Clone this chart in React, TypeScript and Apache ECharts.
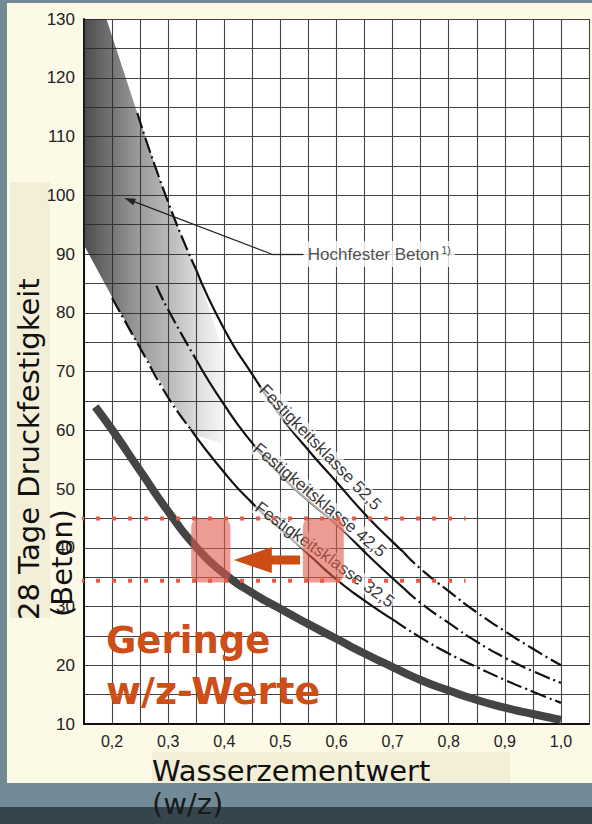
import React, { useEffect, useRef } from 'react';
import * as echarts from 'echarts';

// ---- data ----
const X_TICKS_MIN = 0.15;
const X_TICKS_MAX = 1.05;
const Y_MIN = 10;
const Y_MAX = 130;

// thick grey curve (Zement/Beton)
const THICK_CURVE: number[][] = [
  [0.17, 64], [0.2, 60.1], [0.25, 53.1], [0.3, 46.2], [0.35, 40.1], [0.4, 35.6], [0.45, 32.3],
  [0.5, 29.6], [0.55, 27.0], [0.6, 24.5], [0.65, 22.0], [0.7, 19.7], [0.75, 17.5], [0.8, 15.7],
  [0.85, 14.1], [0.9, 12.8], [0.95, 11.7], [1.0, 10.7],
];

// Festigkeitsklasse 52,5
const K525_START: number[][] = [[0.245, 114], [0.3, 98.8], [0.35, 87.3]];
const K525_SOLID: number[][] = [[0.35, 87.3], [0.4, 77.2], [0.45, 69.5], [0.5, 62.5], [0.55, 56.6], [0.6, 51.2], [0.65, 45.8], [0.7, 41], [0.72, 39.2]];
const K525_END: number[][] = [[0.72, 39.2], [0.75, 36.4], [0.8, 32.6], [0.85, 29], [0.9, 25.8], [0.95, 22.8], [1.0, 20]];

// Festigkeitsklasse 42,5
const K425_START: number[][] = [[0.279, 84.6], [0.3, 80.5], [0.35, 72]];
const K425_SOLID: number[][] = [[0.35, 72], [0.4, 64.3], [0.45, 57.8], [0.5, 52.4], [0.55, 48], [0.6, 44], [0.65, 39.3], [0.7, 34.8], [0.72, 33.1]];
const K425_END: number[][] = [[0.72, 33.1], [0.75, 30.6], [0.8, 27.2], [0.85, 24], [0.9, 21.3], [0.95, 19], [1.0, 17]];

// Festigkeitsklasse 32,5
const K325_START: number[][] = [[0.2, 82.5], [0.25, 74], [0.3, 65.6], [0.34, 60.2]];
const K325_SOLID: number[][] = [[0.34, 60.2], [0.4, 52.8], [0.45, 47.6], [0.5, 43.2], [0.55, 38.9], [0.6, 34.6], [0.65, 31], [0.7, 27.8]];
const K325_END: number[][] = [[0.7, 27.8], [0.75, 24.7], [0.8, 22], [0.85, 19.7], [0.9, 17.5], [0.95, 15.5], [1.0, 13.6]];

// grey "Hochfester Beton" band outline
const HPC_BAND: number[][] = [
  [0.15, 130], [0.19, 130], [0.245, 114], [0.3, 98.5], [0.35, 87.3], [0.4, 73], [0.415, 62],
  [0.395, 57.8], [0.345, 59.3], [0.3, 66], [0.25, 74], [0.2, 82.7], [0.15, 91.5],
];

// highlight zones [x0, x1, y0, y1]
const ZONES: number[][] = [[0.341, 0.411, 34.1, 45], [0.54, 0.613, 34.1, 45]];
const LIMIT_LINES: number[] = [45, 34.4];
const LIMIT_X: number[] = [0.143, 0.83];

// orange arrow [tailX, y, tipX]
const BIG_ARROW: number[][] = [[0.535, 37.9, 0.417]];

// leader of "Hochfester Beton"
const LEADER: number[][] = [[0.54, 90], [0.484, 90], [0.231, 99.2]];

// curve labels [x, y, angle]
const CLASS_LABELS: { text: string; pos: number[]; angle: number }[] = [
  { text: 'Festigkeitsklasse 52,5', pos: [0.571, 57.1], angle: -46 },
  { text: 'Festigkeitsklasse 42,5', pos: [0.57, 48.1], angle: -40 },
  { text: 'Festigkeitsklasse 32,5', pos: [0.579, 38.8], angle: -36 },
];

const Y_TITLE = ['28 Tage Druckfestigkeit', '(Beton)'];
const X_TITLE = ['Wasserzementwert', '(w/z)'];
const HIGHLIGHT = ['Geringe', 'w/z-Werte'];
const HPC_LABEL = 'Hochfester Beton';
const HPC_NOTE = '1)';

const TICK_FONT = '"Liberation Sans", Arial, Helvetica, sans-serif';
const TITLE_FONT = '"DejaVu Sans", sans-serif';
const DASH_DOT = [16, 4, 2, 4];

function lineSeries(data: number[][], dashed: boolean, extra: any = {}) {
  return {
    type: 'line',
    data,
    smooth: 0.6,
    showSymbol: false,
    symbol: 'none',
    silent: true,
    z: 3,
    lineStyle: { color: '#111', width: 2.2, type: dashed ? DASH_DOT : 'solid', cap: 'butt' },
    ...extra,
  };
}

export default function App() {
  const ref = useRef<HTMLDivElement>(null);

  useEffect(() => {
    if (!ref.current) return;
    const chart = echarts.init(ref.current, undefined, { renderer: 'svg' });

    const option: any = {
      animation: false,
      backgroundColor: 'transparent',
      grid: {
        left: 84,
        top: 19,
        width: 509,
        height: 705,
        show: true,
        backgroundColor: '#ffffff',
        borderWidth: 0,
      },
      xAxis: {
        type: 'value',
        min: X_TICKS_MIN,
        max: X_TICKS_MAX,
        interval: 0.05,
        axisLine: { show: true, onZero: false, lineStyle: { color: '#111', width: 2 } },
        axisTick: { show: false },
        splitLine: { show: true, lineStyle: { color: '#444', width: 1.1 } },
        axisLabel: {
          interval: 0,
          margin: 9,
          color: '#222',
          fontSize: 16,
          fontFamily: TICK_FONT,
          formatter: (v: number) => {
            const t = Math.round(v * 100);
            if (t % 10 !== 0 || t < 20 || t > 100) return '';
            return (t / 100).toFixed(1).replace('.', ',');
          },
        },
      },
      yAxis: {
        type: 'value',
        min: Y_MIN,
        max: Y_MAX,
        interval: 5,
        axisLine: { show: true, onZero: false, lineStyle: { color: '#111', width: 2 } },
        axisTick: { show: false },
        splitLine: { show: true, lineStyle: { color: '#444', width: 1.1 } },
        axisLabel: {
          interval: 0,
          margin: 9,
          color: '#222',
          fontSize: 17,
          fontFamily: TICK_FONT,
          formatter: (v: number) => (Math.round(v) % 10 === 0 ? String(Math.round(v)) : ''),
        },
      },
      graphic: [
        {
          type: 'text', x: 29, y: 620, rotation: Math.PI / 2, z: 100,
          style: { text: Y_TITLE[0], fontSize: 29, fontFamily: TITLE_FONT, fill: '#111', align: 'left', verticalAlign: 'middle' },
        },
        {
          type: 'text', x: 62, y: 617, rotation: Math.PI / 2, z: 100,
          style: { text: Y_TITLE[1], fontSize: 29, fontFamily: TITLE_FONT, fill: '#111', align: 'left', verticalAlign: 'middle' },
        },
        {
          type: 'text', x: 152, y: 771, z: 100,
          style: { text: X_TITLE[0], fontSize: 29, fontFamily: TITLE_FONT, fill: '#111', align: 'left', verticalAlign: 'middle' },
        },
        {
          type: 'text', x: 152, y: 804, z: 100,
          style: { text: X_TITLE[1], fontSize: 29, fontFamily: TITLE_FONT, fill: '#1a1a1a', align: 'left', verticalAlign: 'middle' },
        },
        {
          type: 'text', x: 106, y: 640, z: 100,
          style: { text: HIGHLIGHT[0], fontSize: 37, fontWeight: 'bold', fontFamily: TITLE_FONT, fill: '#cd4e16', align: 'left', verticalAlign: 'middle' },
        },
        {
          type: 'text', x: 106, y: 691, z: 100,
          style: { text: HIGHLIGHT[1], fontSize: 38, fontWeight: 'bold', fontFamily: TITLE_FONT, fill: '#cd4e16', align: 'left', verticalAlign: 'middle' },
        },
      ],
      series: [
        {
          type: 'custom',
          coordinateSystem: 'cartesian2d',
          silent: true,
          z: 1,
          data: [[0.2, 100]],
          renderItem: (_p: any, api: any) => {
            const pts = HPC_BAND.map((p) => api.coord(p));
            return {
              type: 'polygon',
              shape: { points: pts },
              style: {
                fill: new echarts.graphic.LinearGradient(0, 0, 1, 0, [
                  { offset: 0, color: 'rgba(40,40,40,0.83)' },
                  { offset: 0.2, color: 'rgba(40,40,40,0.63)' },
                  { offset: 0.35, color: 'rgba(40,40,40,0.48)' },
                  { offset: 0.6, color: 'rgba(40,40,40,0.3)' },
                  { offset: 0.8, color: 'rgba(40,40,40,0.13)' },
                  { offset: 1, color: 'rgba(40,40,40,0)' },
                ]),
              },
            };
          },
        },
        lineSeries(THICK_CURVE, false, { lineStyle: { color: '#444', width: 8, cap: 'butt' }, z: 3 }),
        lineSeries(K525_START, true),
        lineSeries(K525_SOLID, false),
        lineSeries(K525_END, true),
        lineSeries(K425_START, true),
        lineSeries(K425_SOLID, false),
        lineSeries(K425_END, true),
        lineSeries(K325_START, true),
        lineSeries(K325_SOLID, false),
        lineSeries(K325_END, true),
        {
          type: 'scatter',
          symbolSize: 0,
          silent: true,
          z: 4,
          data: CLASS_LABELS.map((l) => ({
            value: l.pos,
            label: {
              show: true,
              position: 'inside',
              rotate: l.angle,
              formatter: l.text,
              fontSize: 17,
              fontFamily: TICK_FONT,
              color: '#000',
              textBorderWidth: 0,
              backgroundColor: 'rgba(255,255,255,0.85)',
              padding: [0, 1],
            },
          })),
        },
        {
          type: 'custom',
          coordinateSystem: 'cartesian2d',
          silent: true,
          z: 6,
          encode: { x: [0, 1], y: [2, 3] },
          data: ZONES,
          renderItem: (_p: any, api: any) => {
            const a = api.coord([api.value(0), api.value(3)]);
            const b = api.coord([api.value(1), api.value(2)]);
            return {
              type: 'rect',
              shape: { x: a[0], y: a[1], width: b[0] - a[0], height: b[1] - a[1], r: 8 },
              style: { fill: 'rgba(225,90,75,0.6)' },
            };
          },
        },
        ...LIMIT_LINES.map((y) => ({
          type: 'line',
          data: [[LIMIT_X[0], y], [LIMIT_X[1], y]],
          showSymbol: false,
          symbol: 'none',
          silent: true,
          clip: false,
          z: 7,
          lineStyle: { color: '#e8574a', width: 4, type: [4, 12], cap: 'butt' },
        })),
        {
          type: 'custom',
          coordinateSystem: 'cartesian2d',
          silent: true,
          z: 8,
          encode: { x: [0, 2], y: 1 },
          data: BIG_ARROW,
          renderItem: (_p: any, api: any) => {
            const tail = api.coord([api.value(0), api.value(1)]);
            const tip = api.coord([api.value(2), api.value(1)]);
            const hl = 38, hw = 13, sw = 4.5;
            const y = tip[1];
            return {
              type: 'polygon',
              shape: {
                points: [
                  [tip[0], y], [tip[0] + hl, y - hw], [tip[0] + hl, y - sw], [tail[0], y - sw],
                  [tail[0], y + sw], [tip[0] + hl, y + sw], [tip[0] + hl, y + hw],
                ],
              },
              style: { fill: '#cc4c14' },
            };
          },
        },
        {
          type: 'scatter',
          symbolSize: 0,
          silent: true,
          z: 9,
          data: [
            {
              value: LEADER[0],
              label: {
                show: true,
                position: 'right',
                distance: 1,
                formatter: `{a|${HPC_LABEL}}{s|${HPC_NOTE}}`,
                backgroundColor: '#ffffff',
                padding: [3, 4, 3, 4],
                rich: {
                  a: { fontSize: 17, fontFamily: TICK_FONT, color: '#222', lineHeight: 20 },
                  s: { fontSize: 11, fontFamily: TICK_FONT, color: '#222', lineHeight: 11, verticalAlign: 'top', padding: [0, 0, 0, 2] },
                },
              },
            },
          ],
          markLine: {
            silent: true,
            animation: false,
            symbol: ['none', 'triangle'],
            symbolSize: [7, 11],
            label: { show: false },
            lineStyle: { color: '#222', width: 1.3, type: 'solid' },
            data: [
              [{ coord: LEADER[0], symbol: 'none' }, { coord: LEADER[1], symbol: 'none' }],
              [{ coord: LEADER[1], symbol: 'none' }, { coord: LEADER[2] }],
            ],
          },
        },
      ],
    };

    chart.setOption(option);
    return () => chart.dispose();
  }, []);

  return (
    <div style={{ position: 'fixed', left: 0, top: 0, width: 592, height: 824, background: '#718a96', overflow: 'hidden' }}>
      <div style={{ position: 'absolute', left: 7, top: 3, width: 585, height: 780, background: '#fcf9e6' }} />
      <div style={{ position: 'absolute', left: 0, top: 807, width: 592, height: 17, background: '#35454e' }} />
      <div style={{ position: 'absolute', left: 10, top: 182, width: 40, height: 436, background: '#f3eed8' }} />
      <div style={{ position: 'absolute', left: 152, top: 752, width: 358, height: 31, background: '#f3eed8' }} />
      <div ref={ref} style={{ position: 'absolute', left: 0, top: 0, width: 592, height: 824 }} />
    </div>
  );
}
